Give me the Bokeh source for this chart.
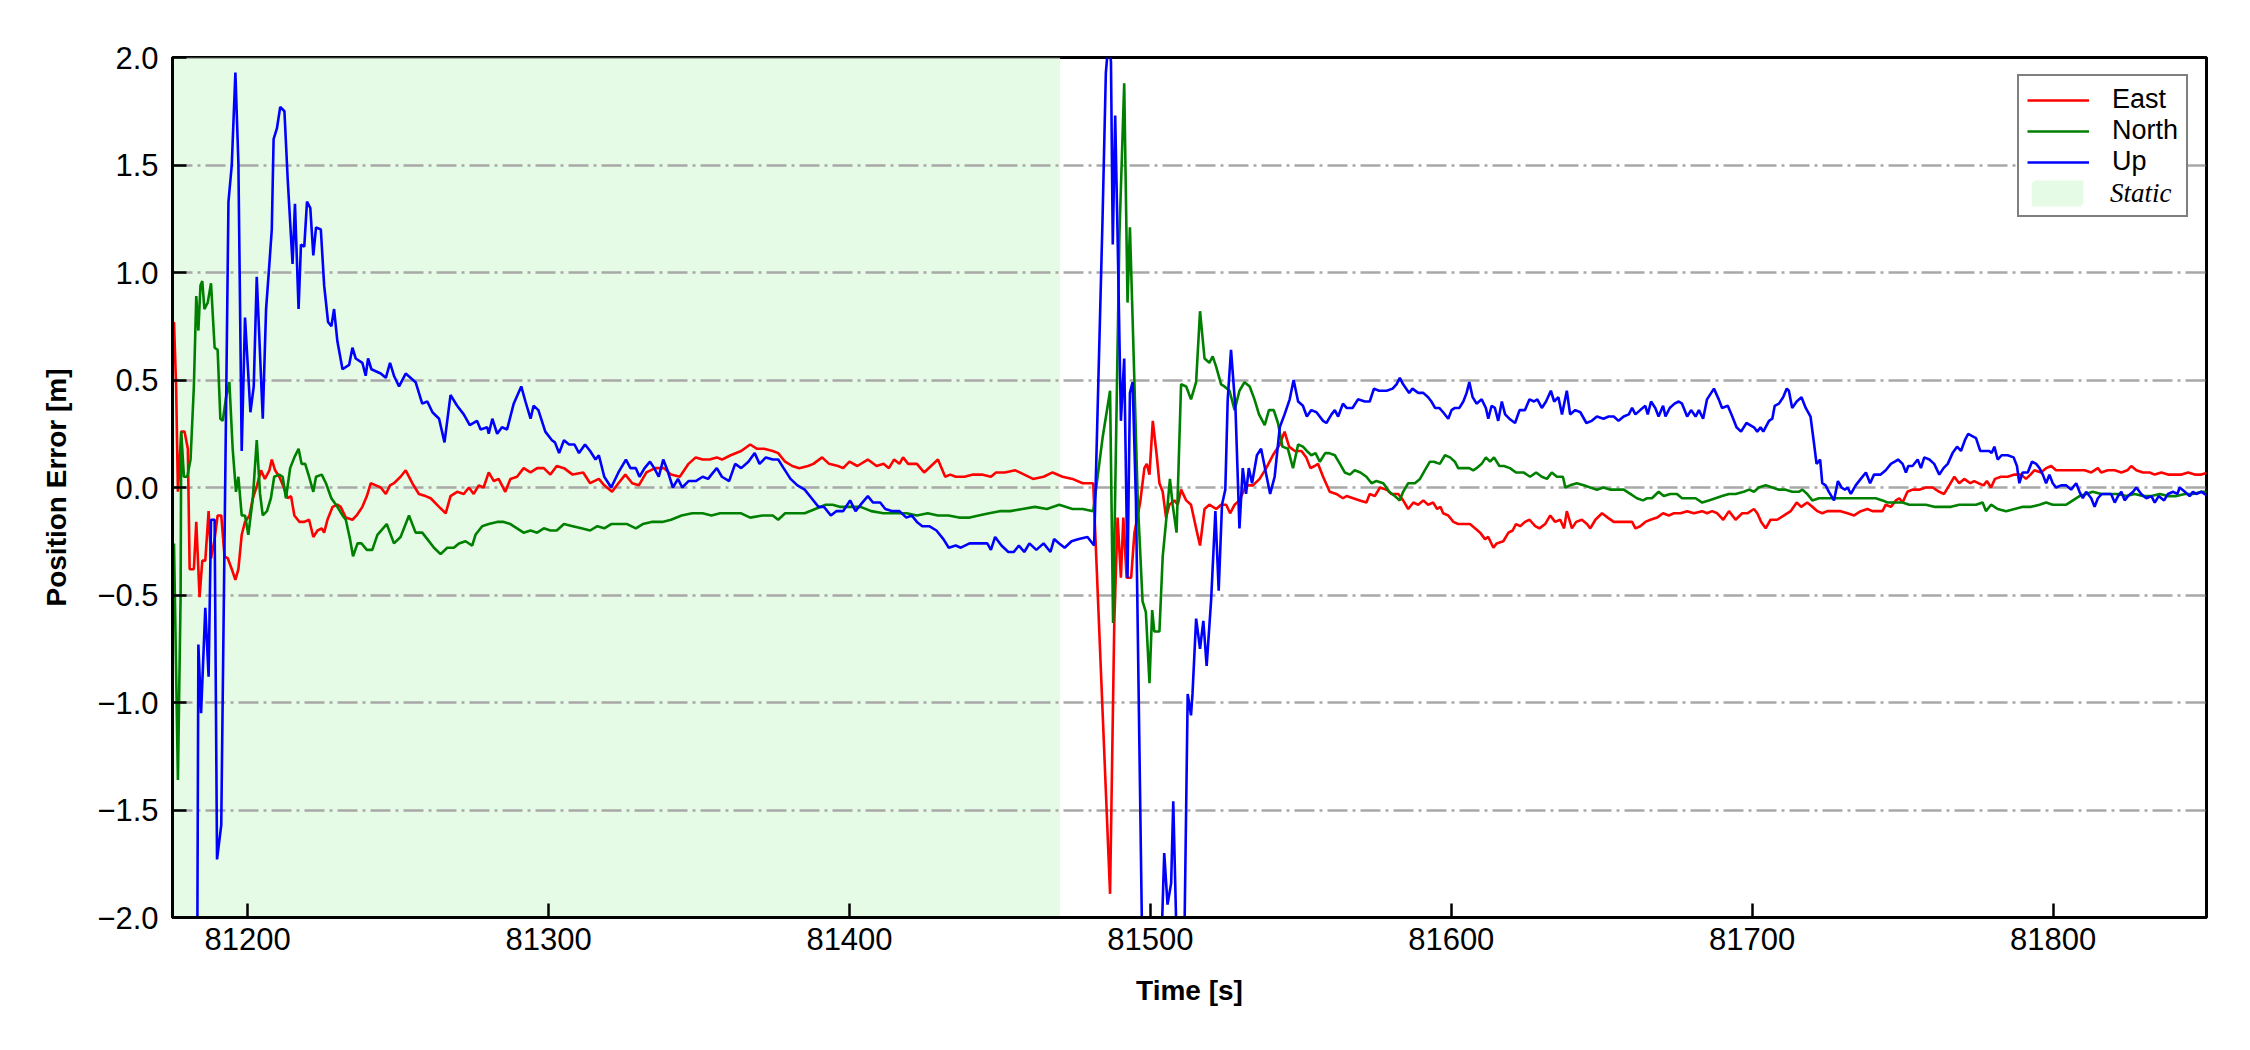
from bokeh.plotting import figure
from bokeh.models import Range1d, FixedTicker, Legend, LegendItem, BoxAnnotation
from bokeh.embed import file_html
from bokeh.resources import INLINE

# ---------------- data (time [s], error [m]) ----------------
EAST = [
    (81175.5, 0.77), (81176.2, 0.47), (81176.8, -0.02), (81177.9, 0.26), (81179.0, 0.26), (81180.1, 0.18),
    (81180.7, -0.38), (81182.1, -0.38), (81182.9, -0.16), (81184.0, -0.51), (81184.9, -0.34), (81185.9, -0.34),
    (81187.0, -0.11), (81187.8, -0.33), (81189.0, -0.24), (81190.0, -0.13), (81191.2, -0.13), (81192.3, -0.32),
    (81193.4, -0.33), (81194.7, -0.38), (81195.9, -0.43), (81196.9, -0.38), (81198.0, -0.22), (81199.1, -0.16),
    (81200.6, -0.13), (81201.7, -0.05), (81203.1, 0.01), (81204.4, 0.08), (81205.7, 0.04), (81207.2, 0.08),
    (81208.0, 0.13), (81209.1, 0.08), (81210.5, 0.05), (81212.0, 0.00), (81213.3, -0.05), (81214.4, -0.04),
    (81215.5, -0.13), (81217.2, -0.16), (81218.8, -0.16), (81220.4, -0.15), (81221.8, -0.23), (81223.2, -0.20),
    (81224.6, -0.19), (81225.4, -0.21), (81226.5, -0.15), (81228.2, -0.09), (81229.8, -0.08), (81230.9, -0.09),
    (81232.6, -0.14), (81234.8, -0.15), (81236.2, -0.13), (81238.1, -0.09), (81239.6, -0.04), (81240.9, 0.02),
    (81242.6, 0.01), (81244.2, 0.00), (81245.9, -0.03), (81247.3, 0.01), (81248.6, 0.02), (81250.8, 0.05),
    (81252.5, 0.08), (81254.7, 0.02), (81256.9, -0.03), (81259.1, -0.04), (81260.8, -0.05), (81263.6, -0.09),
    (81265.8, -0.12), (81267.4, -0.04), (81269.6, -0.02), (81271.8, -0.03), (81273.5, 0.00), (81275.1, -0.03),
    (81276.8, 0.01), (81278.4, 0.00), (81280.1, 0.07), (81281.8, 0.03), (81283.4, 0.04), (81285.6, -0.02),
    (81287.3, 0.04), (81289.5, 0.05), (81291.7, 0.09), (81294.0, 0.07), (81296.2, 0.09), (81298.4, 0.09),
    (81300.6, 0.06), (81302.7, 0.10), (81305.1, 0.09), (81308.0, 0.06), (81311.5, 0.07), (81313.8, 0.02),
    (81316.7, 0.04), (81318.5, 0.01), (81321.1, -0.02), (81323.2, 0.02), (81325.5, 0.06), (81327.8, 0.02),
    (81330.0, 0.01), (81332.5, 0.07), (81335.4, 0.09), (81338.3, 0.09), (81340.7, 0.06), (81343.6, 0.05),
    (81346.5, 0.11), (81348.9, 0.14), (81351.2, 0.13), (81353.5, 0.13), (81355.9, 0.14), (81357.6, 0.13),
    (81360.5, 0.15), (81364.0, 0.17), (81367.0, 0.20), (81369.3, 0.18), (81371.6, 0.18), (81374.5, 0.17),
    (81376.3, 0.16), (81378.6, 0.12), (81381.0, 0.10), (81383.3, 0.09), (81386.2, 0.10), (81388.0, 0.11),
    (81390.9, 0.14), (81393.2, 0.11), (81396.2, 0.10), (81397.9, 0.09), (81400.0, 0.12), (81402.6, 0.10),
    (81406.1, 0.13), (81409.0, 0.10), (81411.3, 0.11), (81413.1, 0.09), (81414.8, 0.13), (81416.6, 0.11),
    (81417.8, 0.14), (81419.5, 0.11), (81422.4, 0.11), (81424.8, 0.07), (81427.1, 0.10), (81429.4, 0.13),
    (81431.8, 0.05), (81433.5, 0.06), (81435.3, 0.05), (81438.2, 0.05), (81441.1, 0.06), (81444.0, 0.06),
    (81447.0, 0.05), (81448.7, 0.07), (81451.6, 0.07), (81455.1, 0.08), (81458.1, 0.06), (81461.0, 0.04),
    (81464.5, 0.05), (81467.5, 0.07), (81470.8, 0.05), (81474.1, 0.04), (81477.5, 0.02), (81481.0, 0.02),
    (81486.6, -1.89), (81488.0, -0.63), (81489.1, -0.14), (81490.2, -0.42), (81491.0, -0.14), (81492.1, -0.42),
    (81493.6, -0.42), (81494.7, -0.21), (81496.6, -0.07), (81498.0, 0.09), (81498.8, 0.11), (81499.7, 0.06),
    (81500.8, 0.31), (81502.1, 0.15), (81503.0, 0.02), (81504.1, -0.02), (81505.2, -0.14), (81506.3, -0.08),
    (81508.0, -0.06), (81509.1, -0.08), (81510.2, -0.01), (81511.9, -0.06), (81513.5, -0.08), (81515.2, -0.19),
    (81516.5, -0.27), (81518.0, -0.10), (81519.6, -0.08), (81521.9, -0.10), (81523.5, -0.08), (81525.2, -0.08),
    (81526.5, -0.12), (81528.0, -0.08), (81529.6, -0.06), (81531.8, 0.01), (81534.1, 0.01), (81536.3, 0.04),
    (81538.5, 0.09), (81540.7, 0.15), (81543.0, 0.20), (81544.6, 0.26), (81546.1, 0.19), (81548.0, 0.17),
    (81550.2, 0.17), (81551.8, 0.14), (81553.2, 0.09), (81554.6, 0.10), (81555.7, 0.11), (81557.4, 0.05),
    (81559.6, -0.02), (81561.8, -0.03), (81564.0, -0.05), (81565.2, -0.04), (81567.4, -0.05), (81569.6, -0.06),
    (81571.8, -0.07), (81572.9, -0.03), (81574.6, -0.04), (81576.3, 0.00), (81578.5, -0.01), (81580.1, -0.03),
    (81582.4, -0.03), (81584.0, -0.06), (81585.7, -0.10), (81587.4, -0.07), (81589.0, -0.08), (81590.7, -0.06),
    (81592.3, -0.08), (81594.0, -0.07), (81595.3, -0.10), (81596.4, -0.09), (81597.3, -0.12), (81599.0, -0.13),
    (81600.7, -0.16), (81602.3, -0.17), (81604.6, -0.17), (81606.2, -0.17), (81607.9, -0.19), (81609.6, -0.21),
    (81611.2, -0.24), (81612.3, -0.23), (81614.0, -0.28), (81615.1, -0.26), (81617.3, -0.25), (81619.0, -0.21),
    (81620.4, -0.20), (81621.5, -0.17), (81622.9, -0.18), (81624.5, -0.16), (81626.0, -0.15), (81627.9, -0.18),
    (81629.3, -0.19), (81631.2, -0.17), (81632.9, -0.13), (81634.5, -0.16), (81636.2, -0.15), (81637.5, -0.19),
    (81638.4, -0.11), (81640.1, -0.19), (81641.5, -0.16), (81643.4, -0.15), (81645.1, -0.17), (81646.2, -0.19),
    (81647.9, -0.15), (81650.1, -0.12), (81652.0, -0.14), (81654.0, -0.16), (81655.6, -0.16), (81657.9, -0.16),
    (81660.1, -0.16), (81661.2, -0.19), (81662.8, -0.18), (81664.5, -0.16), (81666.2, -0.15), (81668.4, -0.14),
    (81670.4, -0.12), (81672.3, -0.13), (81674.0, -0.12), (81676.2, -0.12), (81678.4, -0.11), (81680.6, -0.12),
    (81683.4, -0.11), (81685.0, -0.12), (81686.7, -0.11), (81688.4, -0.12), (81690.4, -0.15), (81692.3, -0.11),
    (81694.5, -0.15), (81696.7, -0.12), (81698.4, -0.12), (81700.6, -0.10), (81701.7, -0.12), (81703.0, -0.16),
    (81704.5, -0.19), (81706.1, -0.15), (81708.3, -0.15), (81710.6, -0.13), (81712.8, -0.11), (81714.8, -0.07),
    (81716.3, -0.09), (81718.3, -0.07), (81720.0, -0.09), (81721.7, -0.11), (81723.3, -0.12), (81725.0, -0.11),
    (81727.2, -0.11), (81729.4, -0.11), (81731.7, -0.12), (81733.9, -0.13), (81736.1, -0.11), (81738.3, -0.10),
    (81740.0, -0.11), (81741.9, -0.11), (81743.3, -0.11), (81744.4, -0.08), (81746.1, -0.09), (81747.8, -0.06),
    (81748.9, -0.05), (81750.0, -0.07), (81751.6, -0.02), (81753.3, -0.01), (81755.5, -0.01), (81757.7, 0.00),
    (81760.0, 0.00), (81762.2, -0.02), (81763.8, -0.03), (81765.5, 0.01), (81767.2, 0.05), (81768.8, 0.02),
    (81770.5, 0.04), (81772.5, 0.02), (81773.8, 0.03), (81775.2, 0.02), (81776.9, 0.01), (81778.0, 0.03),
    (81779.4, 0.00), (81780.7, 0.04), (81782.7, 0.05), (81784.9, 0.05), (81787.2, 0.06), (81789.4, 0.06),
    (81791.0, 0.04), (81792.5, 0.06), (81793.8, 0.08), (81796.0, 0.07), (81797.7, 0.09), (81799.4, 0.10),
    (81801.0, 0.08), (81803.8, 0.08), (81806.0, 0.08), (81808.2, 0.08), (81810.5, 0.08), (81812.7, 0.07),
    (81814.9, 0.09), (81816.0, 0.07), (81818.2, 0.08), (81820.5, 0.08), (81822.7, 0.07), (81824.7, 0.08),
    (81826.0, 0.10), (81827.7, 0.08), (81829.9, 0.07), (81832.1, 0.07), (81833.8, 0.06), (81836.0, 0.07),
    (81838.2, 0.06), (81840.4, 0.06), (81842.7, 0.06), (81844.9, 0.07), (81847.1, 0.06), (81849.3, 0.06),
    (81851.5, 0.07),
]

NORTH = [
    (81175.5, -0.26), (81176.8, -1.36), (81177.7, -0.50), (81177.9, 0.26), (81178.8, 0.05), (81179.9, 0.05),
    (81181.0, 0.13), (81182.1, 0.47), (81182.9, 0.89), (81183.6, 0.73), (81184.3, 0.94), (81184.9, 0.96),
    (81185.6, 0.83), (81186.7, 0.86), (81187.8, 0.95), (81189.0, 0.65), (81190.0, 0.64), (81190.9, 0.32),
    (81191.7, 0.31), (81192.8, 0.42), (81193.9, 0.49), (81195.0, 0.18), (81196.1, -0.02), (81196.9, 0.05),
    (81198.0, -0.13), (81199.1, -0.13), (81200.2, -0.22), (81201.7, -0.05), (81203.0, 0.22), (81204.1, -0.03),
    (81205.0, -0.13), (81206.4, -0.11), (81207.7, -0.05), (81208.8, 0.05), (81210.5, 0.06), (81211.6, 0.05),
    (81212.7, -0.05), (81214.1, 0.09), (81215.5, 0.14), (81216.9, 0.18), (81217.9, 0.11), (81219.1, 0.11),
    (81220.4, 0.05), (81221.8, -0.02), (81222.7, 0.05), (81224.6, 0.06), (81226.0, 0.02), (81227.8, -0.05),
    (81229.8, -0.09), (81231.5, -0.13), (81232.6, -0.15), (81234.0, -0.24), (81235.0, -0.32), (81236.5, -0.26),
    (81237.8, -0.26), (81239.6, -0.29), (81241.4, -0.29), (81243.1, -0.22), (81246.2, -0.17), (81248.6, -0.26),
    (81250.8, -0.23), (81253.6, -0.13), (81255.8, -0.21), (81258.0, -0.21), (81259.7, -0.24), (81261.9, -0.28),
    (81264.1, -0.31), (81266.3, -0.28), (81268.5, -0.28), (81270.2, -0.26), (81272.4, -0.25), (81274.6, -0.27),
    (81275.7, -0.22), (81277.9, -0.18), (81280.1, -0.17), (81282.9, -0.16), (81285.1, -0.16), (81287.3, -0.17),
    (81289.5, -0.19), (81291.7, -0.21), (81294.0, -0.20), (81296.2, -0.21), (81298.4, -0.19), (81300.6, -0.20),
    (81302.7, -0.20), (81305.1, -0.17), (81308.0, -0.18), (81310.9, -0.19), (81313.8, -0.20), (81316.2, -0.18),
    (81318.5, -0.19), (81320.8, -0.17), (81323.2, -0.17), (81326.1, -0.17), (81329.0, -0.19), (81331.3, -0.17),
    (81334.2, -0.16), (81337.8, -0.16), (81340.7, -0.15), (81344.2, -0.13), (81347.7, -0.12), (81351.2, -0.12),
    (81354.1, -0.13), (81357.0, -0.12), (81360.5, -0.12), (81364.0, -0.12), (81367.0, -0.14), (81371.0, -0.13),
    (81374.5, -0.13), (81376.3, -0.15), (81378.6, -0.12), (81381.5, -0.12), (81385.1, -0.12), (81388.6, -0.10),
    (81392.1, -0.08), (81394.4, -0.08), (81396.7, -0.09), (81400.2, -0.09), (81403.7, -0.09), (81407.2, -0.11),
    (81411.3, -0.12), (81415.4, -0.12), (81419.0, -0.12), (81422.4, -0.13), (81426.0, -0.12), (81429.4, -0.13),
    (81432.9, -0.13), (81436.4, -0.14), (81440.0, -0.14), (81442.9, -0.13), (81446.4, -0.12), (81449.9, -0.11),
    (81453.4, -0.11), (81457.5, -0.10), (81461.6, -0.09), (81465.6, -0.10), (81469.7, -0.08), (81474.1, -0.10),
    (81477.5, -0.10), (81481.0, -0.11), (81484.1, 0.23), (81486.6, 0.45), (81487.6, -0.63), (81489.7, 1.17),
    (81491.3, 1.88), (81492.4, 0.86), (81493.2, 1.21), (81494.1, 0.78), (81495.8, -0.06), (81497.4, -0.53),
    (81498.5, -0.58), (81499.7, -0.91), (81500.6, -0.57), (81501.3, -0.67), (81503.0, -0.67), (81504.1, -0.32),
    (81505.2, -0.16), (81506.5, 0.04), (81507.4, -0.08), (81508.7, -0.21), (81510.2, 0.48), (81511.9, 0.47),
    (81513.5, 0.41), (81515.2, 0.49), (81516.5, 0.82), (81518.0, 0.60), (81519.6, 0.58), (81520.7, 0.61),
    (81521.9, 0.56), (81523.5, 0.48), (81524.6, 0.47), (81526.3, 0.45), (81528.0, 0.36), (81529.6, 0.45),
    (81531.3, 0.49), (81533.0, 0.47), (81534.6, 0.41), (81536.1, 0.34), (81538.0, 0.29), (81539.4, 0.36),
    (81541.0, 0.36), (81542.4, 0.30), (81543.9, 0.19), (81545.7, 0.18), (81547.4, 0.09), (81549.1, 0.20),
    (81550.7, 0.19), (81552.0, 0.17), (81553.5, 0.15), (81554.9, 0.16), (81556.3, 0.12), (81558.1, 0.16),
    (81559.4, 0.16), (81561.3, 0.15), (81563.0, 0.11), (81564.6, 0.07), (81566.3, 0.06), (81567.9, 0.08),
    (81569.8, 0.07), (81571.8, 0.05), (81573.5, 0.02), (81575.1, 0.03), (81577.4, 0.02), (81579.4, -0.02),
    (81581.2, -0.04), (81582.9, -0.06), (81584.0, -0.02), (81585.7, 0.02), (81587.9, 0.02), (81589.6, 0.04),
    (81591.2, 0.08), (81592.9, 0.12), (81594.2, 0.12), (81596.2, 0.11), (81597.9, 0.15), (81599.6, 0.14),
    (81601.2, 0.12), (81602.3, 0.09), (81604.0, 0.09), (81606.0, 0.09), (81607.3, 0.08), (81608.4, 0.09),
    (81610.1, 0.11), (81611.5, 0.14), (81612.9, 0.12), (81614.2, 0.14), (81616.0, 0.10), (81617.5, 0.10),
    (81619.5, 0.09), (81621.5, 0.07), (81624.0, 0.07), (81626.2, 0.05), (81628.2, 0.07), (81630.1, 0.05),
    (81631.8, 0.04), (81633.4, 0.07), (81635.1, 0.05), (81637.1, 0.05), (81637.9, 0.00), (81639.5, 0.01),
    (81641.7, 0.02), (81644.0, 0.01), (81646.2, 0.00), (81648.4, -0.01), (81650.6, 0.00), (81652.9, -0.01),
    (81655.1, -0.01), (81657.3, -0.01), (81659.5, -0.03), (81661.7, -0.05), (81663.7, -0.06), (81665.1, -0.05),
    (81666.7, -0.05), (81668.9, -0.02), (81670.6, -0.04), (81672.8, -0.03), (81675.0, -0.03), (81676.7, -0.05),
    (81678.9, -0.05), (81681.2, -0.05), (81683.4, -0.07), (81685.6, -0.06), (81687.8, -0.05), (81690.0, -0.04),
    (81692.3, -0.03), (81694.5, -0.03), (81697.2, -0.02), (81699.0, -0.01), (81700.6, -0.02), (81702.2, 0.00),
    (81704.5, 0.01), (81706.7, 0.00), (81708.9, -0.01), (81711.1, -0.01), (81713.3, -0.02), (81715.5, -0.02),
    (81716.7, -0.01), (81718.3, -0.03), (81720.0, -0.06), (81722.2, -0.05), (81724.4, -0.05), (81727.2, -0.05),
    (81730.0, -0.05), (81732.8, -0.05), (81735.5, -0.05), (81738.3, -0.05), (81741.1, -0.05), (81743.3, -0.06),
    (81745.0, -0.07), (81747.2, -0.07), (81750.0, -0.07), (81752.2, -0.08), (81755.0, -0.08), (81757.7, -0.08),
    (81760.5, -0.09), (81763.3, -0.09), (81766.1, -0.09), (81768.8, -0.08), (81771.6, -0.08), (81774.4, -0.08),
    (81776.6, -0.07), (81777.7, -0.11), (81779.4, -0.08), (81781.6, -0.10), (81784.4, -0.11), (81787.2, -0.10),
    (81790.0, -0.09), (81792.7, -0.09), (81795.5, -0.08), (81797.7, -0.07), (81799.9, -0.08), (81802.1, -0.08),
    (81804.4, -0.08), (81806.6, -0.06), (81808.8, -0.04), (81811.0, -0.03), (81813.2, -0.02), (81816.0, -0.03),
    (81818.8, -0.03), (81821.6, -0.03), (81824.4, -0.04), (81827.1, -0.03), (81829.9, -0.04), (81832.7, -0.04),
    (81835.5, -0.03), (81838.2, -0.04), (81841.0, -0.04), (81843.8, -0.03), (81846.6, -0.03), (81849.3, -0.02),
    (81851.5, -0.02),
]

UP = [
    (81175.5, -3.00), (81183.2, -2.30), (81183.6, -0.73), (81184.5, -1.05), (81185.9, -0.56), (81187.0, -0.88),
    (81187.8, -0.15), (81189.0, -0.15), (81189.8, -1.73), (81191.2, -1.57), (81193.6, 1.33), (81194.7, 1.50),
    (81195.9, 1.93), (81196.9, 1.51), (81198.0, 0.17), (81199.1, 0.79), (81200.9, 0.35), (81202.0, 0.47),
    (81203.0, 0.98), (81205.0, 0.32), (81206.1, 0.83), (81207.2, 1.04), (81208.0, 1.20), (81208.6, 1.62),
    (81209.7, 1.67), (81210.8, 1.77), (81212.2, 1.75), (81213.3, 1.43), (81214.9, 1.04), (81215.7, 1.32),
    (81216.9, 0.83), (81217.7, 1.13), (81218.8, 1.12), (81219.7, 1.33), (81220.8, 1.30), (81221.8, 1.08),
    (81222.7, 1.21), (81224.3, 1.20), (81225.4, 0.94), (81226.7, 0.77), (81227.8, 0.75), (81228.7, 0.83),
    (81229.8, 0.68), (81231.5, 0.55), (81233.7, 0.57), (81234.8, 0.65), (81235.9, 0.60), (81238.1, 0.58),
    (81239.2, 0.52), (81240.0, 0.60), (81241.1, 0.55), (81244.2, 0.53), (81245.9, 0.51), (81247.3, 0.58),
    (81248.6, 0.52), (81250.3, 0.47), (81252.5, 0.53), (81255.8, 0.49), (81258.0, 0.39), (81259.7, 0.40),
    (81261.4, 0.35), (81263.6, 0.32), (81265.4, 0.21), (81267.4, 0.43), (81269.6, 0.38), (81271.8, 0.34),
    (81273.8, 0.29), (81276.2, 0.31), (81277.4, 0.27), (81279.6, 0.28), (81280.1, 0.25), (81281.3, 0.32),
    (81282.9, 0.25), (81284.5, 0.28), (81286.2, 0.27), (81288.4, 0.39), (81290.9, 0.47), (81292.3, 0.40),
    (81294.0, 0.32), (81295.0, 0.38), (81296.6, 0.36), (81298.9, 0.26), (81301.1, 0.22), (81302.1, 0.21),
    (81303.5, 0.16), (81305.1, 0.22), (81306.8, 0.20), (81308.6, 0.20), (81310.1, 0.16), (81312.1, 0.20),
    (81313.8, 0.17), (81315.6, 0.13), (81316.7, 0.15), (81318.5, 0.05), (81320.8, 0.00), (81323.2, 0.07),
    (81325.7, 0.13), (81327.2, 0.09), (81329.0, 0.09), (81330.2, 0.05), (81331.9, 0.09), (81333.7, 0.12),
    (81335.1, 0.09), (81336.6, 0.05), (81338.1, 0.13), (81339.5, 0.08), (81341.3, 0.00), (81343.0, 0.04),
    (81344.4, 0.00), (81346.5, 0.03), (81348.9, 0.03), (81351.2, 0.05), (81353.0, 0.04), (81354.1, 0.06),
    (81355.9, 0.09), (81357.6, 0.05), (81360.0, 0.03), (81362.0, 0.11), (81364.0, 0.09), (81366.4, 0.12),
    (81368.5, 0.16), (81370.1, 0.11), (81372.2, 0.14), (81374.5, 0.13), (81376.3, 0.13), (81378.1, 0.09),
    (81380.4, 0.04), (81382.7, 0.01), (81385.1, -0.01), (81387.4, -0.05), (81389.7, -0.09), (81391.5, -0.09),
    (81393.8, -0.13), (81395.6, -0.11), (81397.9, -0.11), (81400.2, -0.06), (81402.0, -0.11), (81403.7, -0.08),
    (81406.1, -0.04), (81407.8, -0.07), (81410.2, -0.07), (81411.9, -0.10), (81414.3, -0.11), (81416.6, -0.11),
    (81418.9, -0.14), (81420.7, -0.13), (81422.4, -0.16), (81424.2, -0.18), (81426.5, -0.18), (81428.9, -0.20),
    (81431.2, -0.24), (81433.0, -0.28), (81435.3, -0.27), (81437.0, -0.28), (81439.9, -0.26), (81442.9, -0.26),
    (81445.8, -0.26), (81447.0, -0.29), (81448.4, -0.23), (81450.5, -0.27), (81452.8, -0.30), (81454.6, -0.30),
    (81456.3, -0.27), (81458.1, -0.30), (81459.8, -0.26), (81462.1, -0.29), (81464.5, -0.26), (81466.8, -0.30),
    (81468.0, -0.24), (81469.7, -0.26), (81471.5, -0.28), (81473.8, -0.25), (81476.2, -0.24), (81479.1, -0.23),
    (81481.3, -0.27), (81484.1, 1.25), (81485.2, 1.93), (81486.1, 2.08), (81486.9, 1.98), (81487.5, 1.13),
    (81488.3, 1.73), (81489.1, 1.17), (81490.2, 0.31), (81491.3, 0.60), (81492.4, -0.42), (81493.2, 0.44),
    (81494.1, 0.49), (81495.2, -0.06), (81497.2, -2.05), (81500.0, -2.60), (81503.5, -2.20), (81504.6, -1.70),
    (81505.7, -1.94), (81506.9, -1.84), (81507.6, -1.46), (81508.7, -2.10), (81510.5, -2.40), (81511.3, -2.10),
    (81512.4, -0.96), (81513.5, -1.06), (81514.0, -0.96), (81515.2, -0.61), (81516.5, -0.75), (81517.6, -0.62),
    (81518.7, -0.83), (81520.2, -0.52), (81521.6, -0.11), (81522.7, -0.48), (81523.8, -0.08), (81524.9, -0.01),
    (81525.7, 0.41), (81526.8, 0.64), (81528.3, 0.36), (81529.6, -0.19), (81530.7, 0.09), (81531.8, -0.03),
    (81532.7, 0.09), (81533.8, 0.02), (81535.4, 0.15), (81536.8, 0.18), (81538.5, 0.06), (81539.8, -0.03),
    (81541.3, 0.05), (81543.0, 0.28), (81544.6, 0.34), (81546.3, 0.41), (81547.6, 0.50), (81549.1, 0.40),
    (81550.7, 0.38), (81552.0, 0.33), (81553.5, 0.36), (81555.2, 0.35), (81557.4, 0.31), (81558.5, 0.30),
    (81560.2, 0.34), (81561.3, 0.36), (81562.4, 0.33), (81564.0, 0.39), (81565.2, 0.37), (81567.2, 0.37),
    (81569.0, 0.41), (81571.3, 0.40), (81572.9, 0.40), (81574.3, 0.46), (81576.0, 0.45), (81578.5, 0.45),
    (81580.5, 0.46), (81581.8, 0.48), (81582.9, 0.51), (81584.0, 0.48), (81586.0, 0.44), (81587.1, 0.46),
    (81589.0, 0.44), (81590.7, 0.44), (81592.3, 0.42), (81593.4, 0.40), (81594.6, 0.37), (81596.0, 0.37),
    (81597.3, 0.35), (81599.0, 0.32), (81600.1, 0.36), (81601.2, 0.37), (81602.7, 0.37), (81604.0, 0.40),
    (81605.1, 0.44), (81606.0, 0.49), (81607.1, 0.42), (81608.4, 0.39), (81610.1, 0.41), (81611.5, 0.37),
    (81612.3, 0.32), (81613.4, 0.38), (81614.5, 0.37), (81615.6, 0.31), (81616.8, 0.40), (81617.9, 0.34),
    (81619.3, 0.32), (81621.2, 0.30), (81622.7, 0.36), (81624.5, 0.36), (81626.0, 0.41), (81627.5, 0.40),
    (81628.6, 0.41), (81630.1, 0.37), (81631.5, 0.40), (81633.1, 0.45), (81634.2, 0.40), (81635.6, 0.42),
    (81636.8, 0.34), (81638.4, 0.45), (81639.5, 0.34), (81641.2, 0.36), (81642.9, 0.35), (81644.9, 0.30),
    (81646.7, 0.31), (81648.4, 0.33), (81650.6, 0.32), (81652.3, 0.33), (81654.0, 0.33), (81655.6, 0.31),
    (81657.3, 0.33), (81659.0, 0.34), (81660.1, 0.37), (81661.2, 0.34), (81662.8, 0.36), (81664.5, 0.38),
    (81665.3, 0.34), (81666.4, 0.40), (81667.8, 0.37), (81668.9, 0.33), (81670.4, 0.38), (81671.2, 0.33),
    (81672.6, 0.37), (81674.2, 0.39), (81675.6, 0.40), (81676.7, 0.39), (81678.4, 0.33), (81679.7, 0.36),
    (81681.2, 0.33), (81682.3, 0.36), (81683.7, 0.32), (81685.0, 0.41), (81687.3, 0.46), (81688.9, 0.41),
    (81690.0, 0.37), (81691.9, 0.38), (81693.4, 0.33), (81694.8, 0.28), (81696.3, 0.26), (81698.1, 0.30),
    (81700.6, 0.28), (81701.7, 0.26), (81702.8, 0.28), (81703.7, 0.26), (81705.6, 0.31), (81706.7, 0.32),
    (81707.5, 0.38), (81708.9, 0.39), (81710.3, 0.42), (81711.5, 0.46), (81712.2, 0.45), (81713.3, 0.37),
    (81714.8, 0.40), (81716.4, 0.42), (81717.8, 0.37), (81719.4, 0.33), (81720.6, 0.20), (81721.4, 0.11),
    (81722.6, 0.13), (81723.3, 0.02), (81724.4, 0.01), (81725.5, -0.02), (81727.2, -0.06), (81728.5, 0.03),
    (81729.7, 0.00), (81730.8, -0.01), (81731.7, 0.00), (81732.8, -0.03), (81734.4, 0.01), (81736.1, 0.04),
    (81737.8, 0.07), (81739.2, 0.02), (81740.5, 0.06), (81742.7, 0.06), (81744.4, 0.08), (81746.1, 0.11),
    (81747.4, 0.12), (81748.5, 0.13), (81750.0, 0.11), (81751.1, 0.07), (81751.9, 0.10), (81753.3, 0.10),
    (81755.0, 0.13), (81756.1, 0.09), (81757.2, 0.14), (81758.9, 0.13), (81760.5, 0.11), (81762.2, 0.06),
    (81763.6, 0.09), (81765.0, 0.11), (81766.6, 0.16), (81768.1, 0.19), (81769.4, 0.17), (81770.7, 0.22),
    (81771.8, 0.25), (81773.0, 0.24), (81774.4, 0.23), (81775.8, 0.17), (81777.4, 0.17), (81778.8, 0.17),
    (81779.6, 0.16), (81780.5, 0.19), (81781.6, 0.13), (81782.9, 0.15), (81784.9, 0.15), (81786.9, 0.14),
    (81788.0, 0.10), (81788.8, 0.02), (81789.9, 0.07), (81791.6, 0.07), (81793.0, 0.12), (81794.4, 0.11),
    (81795.5, 0.09), (81796.6, 0.06), (81797.7, 0.02), (81798.8, 0.06), (81799.9, 0.02), (81801.0, 0.00),
    (81802.7, 0.01), (81804.4, 0.01), (81806.0, -0.01), (81807.7, 0.02), (81808.8, -0.02), (81809.9, -0.05),
    (81811.0, -0.02), (81812.7, -0.05), (81813.8, -0.09), (81814.9, -0.05), (81816.2, -0.03), (81818.0, -0.03),
    (81819.3, -0.03), (81820.5, -0.07), (81821.6, -0.04), (81822.7, -0.02), (81823.8, -0.06), (81824.9, -0.04),
    (81826.6, -0.02), (81827.7, 0.00), (81829.3, -0.03), (81831.0, -0.05), (81832.7, -0.04), (81833.8, -0.07),
    (81835.1, -0.04), (81836.9, -0.06), (81838.2, -0.03), (81839.9, -0.02), (81841.3, -0.03), (81842.1, 0.00),
    (81843.8, -0.02), (81845.4, -0.04), (81846.5, -0.02), (81847.6, -0.03), (81849.3, -0.02), (81851.5, -0.04),
]

STATIC_START = 81175.0
STATIC_END = 81470.0
X_MIN, X_MAX = 81175.0, 81851.0
Y_MIN, Y_MAX = -2.0, 2.0
X_TICKS = [81200, 81300, 81400, 81500, 81600, 81700, 81800]
X_TICK_LABELS = ["81200", "81300", "81400", "81500", "81600", "81700", "81800"]
Y_TICKS = [-2.0, -1.5, -1.0, -0.5, 0.0, 0.5, 1.0, 1.5, 2.0]
Y_TICK_LABELS = ["\u22122.0", "\u22121.5", "\u22121.0", "\u22120.5", "0.0", "0.5", "1.0", "1.5", "2.0"]
GRID_TICKS = [-1.5, -1.0, -0.5, 0.0, 0.5, 1.0, 1.5]
SERIES_NAMES = ["East", "North", "Up"]
SERIES_COLORS = ["#ff0000", "#008000", "#0000ff"]
STATIC_LABEL = "Static"
STATIC_COLOR = "#e6fbe6"

FONT = "Liberation Sans"

# layout (pixels)
FRAME_W, FRAME_H = 2034, 860
BORDER_L, BORDER_R, BORDER_T, BORDER_B = 172, 36, 57, 125
LEG_PAD, LEG_ROW, LEG_SPACING = 8, 30, 0
LEG_GLYPH_W, LEG_STANDOFF = 62, 23
LEG_LEFT = 1845      # legend box left edge, px from frame left
LEG_BOTTOM = 700     # legend box bottom edge, px from frame bottom

# ---------------- figure ----------------
p = figure(
    width=BORDER_L + FRAME_W + BORDER_R, height=BORDER_T + FRAME_H + BORDER_B,
    x_range=Range1d(X_MIN, X_MAX), y_range=Range1d(Y_MIN, Y_MAX),
    output_backend="svg", toolbar_location=None,
    min_border_left=BORDER_L, min_border_right=BORDER_R,
    min_border_top=BORDER_T, min_border_bottom=BORDER_B,
    background_fill_color="white", border_fill_color="white",
)
p.outline_line_color = "black"
p.outline_line_width = 3

static_r = p.quad(left=[STATIC_START], right=[STATIC_END], bottom=[Y_MIN], top=[Y_MAX],
                  fill_color=STATIC_COLOR, line_color=None, level="image")

renderers = []
for data, color in zip([EAST, NORTH, UP], SERIES_COLORS):
    xs = [d[0] for d in data]
    ys = [d[1] for d in data]
    r = p.line(xs, ys, line_color=color, line_width=2.6)
    renderers.append(r)

# frame border drawn above the data
p.add_layout(BoxAnnotation(fill_alpha=0, line_color="black", line_width=3))

# axes
p.xaxis.ticker = FixedTicker(ticks=X_TICKS)
p.yaxis.ticker = FixedTicker(ticks=Y_TICKS)
p.xaxis.major_label_overrides = {t: l for t, l in zip(X_TICKS, X_TICK_LABELS)}
p.yaxis.major_label_overrides = {t: l for t, l in zip(Y_TICKS, Y_TICK_LABELS)}
for ax in (p.xaxis[0], p.yaxis[0]):
    ax.major_tick_in = 14
    ax.major_tick_out = 0
    ax.major_tick_line_width = 2.5
    ax.major_tick_line_color = "black"
    ax.minor_tick_line_color = None
    ax.axis_line_width = 3
    ax.axis_line_color = "black"
    ax.major_label_text_font = FONT
    ax.major_label_text_font_size = "31px"
    ax.major_label_text_color = "black"
    ax.axis_label_text_font = FONT
    ax.axis_label_text_font_size = "28px"
    ax.axis_label_text_font_style = "bold"
    ax.axis_label_text_color = "black"
p.xaxis.axis_label = "Time [s]"
p.yaxis.axis_label = "Position Error [m]"
p.xaxis.major_label_standoff = 10
p.yaxis.major_label_standoff = 14
p.xaxis.axis_label_standoff = 22
p.yaxis.axis_label_standoff = 22

# grid
p.xgrid.visible = False
p.ygrid.ticker = FixedTicker(ticks=GRID_TICKS)
p.ygrid.grid_line_color = "#a8a8a8"
p.ygrid.grid_line_width = 2.5
p.ygrid.grid_line_dash = "20 5 3 5"


def style_legend(lg):
    lg.location = (LEG_LEFT, LEG_BOTTOM)
    lg.padding = LEG_PAD
    lg.spacing = LEG_SPACING
    lg.glyph_height = LEG_ROW
    lg.glyph_width = LEG_GLYPH_W
    lg.label_height = LEG_ROW
    lg.label_standoff = LEG_STANDOFF
    lg.label_text_font_size = "27px"
    lg.label_text_color = "black"
    lg.margin = 0


# main legend (4th row label left blank; filled by the italic overlay legend)
items = [LegendItem(label=n, renderers=[r]) for n, r in zip(SERIES_NAMES, renderers)]
items.append(LegendItem(label=" ", renderers=[static_r]))
legend = Legend(items=items)
style_legend(legend)
legend.label_text_font = FONT
legend.border_line_color = "black"
legend.border_line_width = 2.5
legend.background_fill_color = "white"
legend.background_fill_alpha = 1.0
p.add_layout(legend)

# overlay legend: same bottom-left anchor, one row -> lands on the 4th row
legend2 = Legend(items=[LegendItem(label=STATIC_LABEL, renderers=[static_r])])
style_legend(legend2)
legend2.label_text_font = "Liberation Serif"
legend2.label_text_font_style = "italic"
legend2.border_line_alpha = 0
legend2.background_fill_alpha = 0
p.add_layout(legend2)

open("out.html", "w").write(file_html(p, INLINE))
